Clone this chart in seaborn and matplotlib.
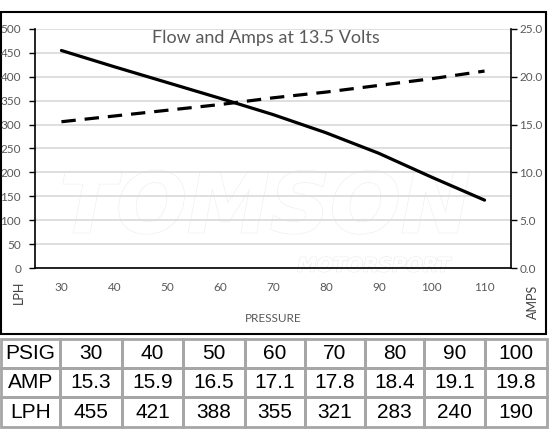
import matplotlib
matplotlib.use("Agg")
import matplotlib.pyplot as plt
import matplotlib.patheffects as pe
from matplotlib.patches import Rectangle
from matplotlib.ticker import MultipleLocator, FixedLocator
import seaborn as sns
import pandas as pd

sns.set_theme(style="white")
plt.rcParams['font.family'] = ['Lato', 'DejaVu Sans']

# chart data
pressure = [30, 40, 50, 60, 70, 80, 90, 100, 110]
lph = [455, 421, 388, 355, 321, 283, 240, 190, 142]
amps = [15.3, 15.9, 16.5, 17.1, 17.8, 18.4, 19.1, 19.8, 20.6]

# table data
row_labels = ["PSIG", "AMP", "LPH"]
psig_row = ["30", "40", "50", "60", "70", "80", "90", "100"]
amp_row = ["15.3", "15.9", "16.5", "17.1", "17.8", "18.4", "19.1", "19.8"]
lph_row = ["455", "421", "388", "355", "321", "283", "240", "190"]

W, H = 550, 440
GREY = "#595959"

fig = plt.figure(figsize=(5.5, 4.4), dpi=100)
ax = fig.add_axes([35 / W, 1 - 268 / H, (511 - 35) / W, (268 - 29) / H])
ax.patch.set_alpha(0)

df = pd.DataFrame({"pressure": pressure, "lph": lph, "amps": amps})

sns.lineplot(data=df, x="pressure", y="lph", ax=ax, color="black", lw=2.3,
             solid_capstyle="round", zorder=3)
ax.set_xlim(25, 115)
ax.set_ylim(0, 500)
ax.yaxis.set_major_locator(MultipleLocator(50))
ax.grid(axis="y", color="#d9d9d9", lw=1.2)
ax.set_axisbelow(True)

ax.xaxis.set_major_locator(FixedLocator(list(range(25, 120, 10))))
ax.tick_params(axis="x", which="major", direction="out", length=4, width=1,
               color="black", labelbottom=False)
ax.set_xticks(pressure, [str(p) for p in pressure], minor=True)
ax.tick_params(axis="x", which="minor", direction="in", length=3, width=1,
               color="black", labelbottom=True, labelsize=8.5,
               labelcolor=GREY, pad=10)
ax.tick_params(axis="y", direction="out", length=4, width=1, color="black",
               labelsize=8.5, labelcolor=GREY, pad=6, left=True)
ax.set_xlabel("")
ax.set_ylabel("")

ax2 = ax.twinx()
sns.lineplot(data=df, x="pressure", y="amps", ax=ax2, color="black", lw=2.3,
             zorder=3)
ax2.lines[0].set_linestyle((0, (4.5, 2.8)))
ax2.set_ylim(0, 25)
amp_ticks = [0, 5, 10, 15, 20, 25]
ax2.set_yticks(amp_ticks, [f"{v:.1f}" for v in amp_ticks])
ax2.tick_params(axis="y", direction="out", length=4, width=1, color="black",
                labelsize=8.5, labelcolor=GREY, pad=2, right=True)
ax2.set_ylabel("")
ax2.set_xlabel("")

for a in (ax, ax2):
    a.spines["top"].set_visible(False)
    for s in ("left", "right", "bottom"):
        a.spines[s].set_color("black")
        a.spines[s].set_linewidth(1.2)
ax.spines["right"].set_visible(False)
ax2.spines["left"].set_visible(False)
ax2.spines["bottom"].set_visible(False)

# faint watermark
wm = fig.text(265 / W, 1 - 209 / H, "TOMSON", fontsize=60, fontweight="heavy",
              fontstyle="italic", family="DejaVu Sans", color="white",
              ha="center", va="center", zorder=0.5)
wm.set_path_effects([pe.withStroke(linewidth=1.2, foreground="#f0f0f0"),
                     pe.Normal()])
wm2 = fig.text(374 / W, 1 - 266 / H, "MOTORSPORT", fontsize=14,
               fontweight="bold", fontstyle="italic", family="DejaVu Sans",
               color="white", ha="center", va="center", zorder=0.5)
wm2.set_path_effects([pe.withStroke(linewidth=1, foreground="#eaeaea"),
                      pe.Normal()])
ax.set_zorder(1)
ax2.set_zorder(2)

# titles and axis labels
fig.text(266 / W, 1 - 38 / H, "Flow and Amps at 13.5 Volts", fontsize=13,
         color=GREY, ha="center", va="center")
fig.text(273 / W, 1 - 319 / H, "PRESSURE", fontsize=8.5, color=GREY,
         ha="center", va="center")
fig.text(19 / W, 1 - 292 / H, "LPH", fontsize=9, color="#404040", rotation=90,
         ha="center", va="center")
fig.text(533 / W, 1 - 302 / H, "AMPS", fontsize=9, color="#404040",
         rotation=90, ha="center", va="center")

# outer chart border
fig.add_artist(Rectangle((1 / W, 1 - 334 / H), 545 / W, 322 / H, fill=False,
                         ec="black", lw=1.5, transform=fig.transFigure))

# data table
col_edges = [1, 60, 122, 183, 245, 305, 365, 424, 485, 547]
row_edges = [339, 368, 397, 427]
rows = [psig_row, amp_row, lph_row]
for r, (name, vals) in enumerate(zip(row_labels, rows)):
    cells = [name] + vals
    y0, y1 = row_edges[r], row_edges[r + 1]
    for c, txt in enumerate(cells):
        x0, x1 = col_edges[c], col_edges[c + 1]
        fig.add_artist(Rectangle((x0 / W, 1 - y1 / H), (x1 - x0) / W,
                                 (y1 - y0) / H, fill=False, ec="#a6a6a6",
                                 lw=2, transform=fig.transFigure))
        fig.text((x0 + x1) / 2 / W, 1 - (y0 + y1) / 2 / H, txt, fontsize=15,
                 family="Liberation Sans", color="black", ha="center",
                 va="center")

fig.savefig("out.png", dpi=100)
